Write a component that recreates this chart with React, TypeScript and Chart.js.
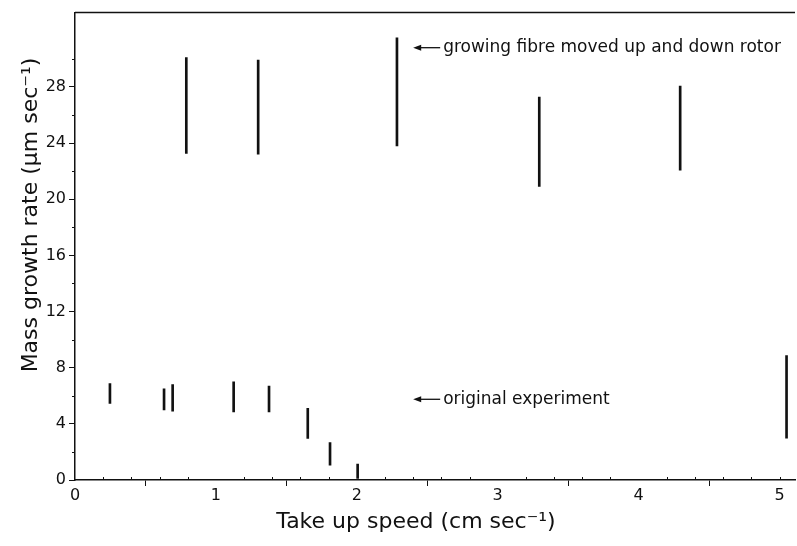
import React, { useEffect, useRef } from "react";
import { Chart, registerables } from "chart.js";

Chart.register(...registerables);

// Upper group: growing fibre moved up and down rotor
const upperX = [0.79, 1.3, 2.285, 3.295, 4.295];
const upperLow = [23.26, 23.22, 23.8, 20.92, 22.08];
const upperHigh = [30.09, 29.92, 31.5, 27.29, 28.07];

// Lower group: original experiment
const lowerX = [0.248, 0.632, 0.693, 1.126, 1.377, 1.652, 1.81, 2.006, 5.05];
const lowerLow = [5.45, 5.0, 4.9, 4.85, 4.85, 2.96, 1.06, 0.12, 2.98];
const lowerHigh = [6.87, 6.5, 6.8, 7.0, 6.7, 5.1, 2.67, 1.13, 8.87];

const xTickValues = [0, 1, 2, 3, 4, 5];
const xTickLabels = ["0", "1", "2", "3", "4", "5"];
const yTickValues = [0, 4, 8, 12, 16, 20, 24, 28];
const yTickLabels = ["0", "4", "8", "12", "16", "20", "24", "28"];
const xMinorTicks = [0.2, 0.4, 0.6, 0.8, 1.2, 1.4, 1.6, 1.8, 2.2, 2.4, 2.6, 2.8, 3.2, 3.4, 3.6, 3.8, 4.2, 4.4, 4.6, 4.8, 5.0];
const yMinorTicks = [2, 6, 10, 14, 18, 22, 26, 30];

const annotationTexts = ["growing fibre moved up and down rotor", "original experiment"];
const annotationX = [2.4, 2.4];
const annotationY = [30.8, 5.75];

const xTitle = "Take up speed (cm sec\u207B\u00B9)";
const yTitle = "Mass growth rate (\u03BCm sec\u207B\u00B9)";

const FONT = "'DejaVu Sans', sans-serif";
const INK = "#111";

const extrasPlugin = {
  id: "extras",
  afterDraw(chart: any) {
    const ctx = chart.ctx as CanvasRenderingContext2D;
    const area = chart.chartArea;
    const xs = chart.scales.x;
    const ys = chart.scales.y;
    ctx.save();
    ctx.strokeStyle = INK;
    ctx.fillStyle = INK;
    // top frame line
    ctx.lineWidth = 1.5;
    ctx.beginPath();
    ctx.moveTo(area.left, area.top);
    ctx.lineTo(area.right, area.top);
    ctx.stroke();
    // minor ticks
    ctx.lineWidth = 1;
    ctx.beginPath();
    for (const v of xMinorTicks) {
      const px = Math.round(xs.getPixelForValue(v)) + 0.5;
      ctx.moveTo(px, area.bottom);
      ctx.lineTo(px, area.bottom - 3);
    }
    for (const v of yMinorTicks) {
      const py = Math.round(ys.getPixelForValue(v)) + 0.5;
      ctx.moveTo(area.left, py);
      ctx.lineTo(area.left - 3, py);
    }
    ctx.stroke();
    // annotations with arrows
    ctx.font = `17px ${FONT}`;
    ctx.textBaseline = "middle";
    ctx.textAlign = "left";
    annotationTexts.forEach((t, i) => {
      const x0 = xs.getPixelForValue(annotationX[i]);
      const y0 = ys.getPixelForValue(annotationY[i]);
      ctx.lineWidth = 1.3;
      ctx.beginPath();
      ctx.moveTo(x0 + 4, y0);
      ctx.lineTo(x0 + 27, y0);
      ctx.stroke();
      ctx.beginPath();
      ctx.moveTo(x0, y0);
      ctx.lineTo(x0 + 8, y0 - 3);
      ctx.lineTo(x0 + 8, y0 + 3);
      ctx.closePath();
      ctx.fill();
      ctx.fillText(t, x0 + 30, y0);
    });
    // axis titles
    ctx.font = `22px ${FONT}`;
    ctx.textAlign = "center";
    ctx.textBaseline = "middle";
    ctx.fillText(xTitle, 416, 522);
    ctx.save();
    ctx.translate(31, 215);
    ctx.rotate(-Math.PI / 2);
    ctx.fillText(yTitle, 0, 0);
    ctx.restore();
    ctx.restore();
  },
};

export default function App() {
  const ref = useRef<HTMLCanvasElement | null>(null);
  useEffect(() => {
    if (!ref.current) return;
    const chart = new Chart(ref.current, {
      type: "bar",
      data: {
        datasets: [
          {
            label: "growing fibre moved up and down rotor",
            data: upperX.map((x, i) => ({ x, y: [upperLow[i], upperHigh[i]] })) as any,
            backgroundColor: INK,
            borderWidth: 0,
            barThickness: 2,
          },
          {
            label: "original experiment",
            data: lowerX.map((x, i) => ({ x, y: [lowerLow[i], lowerHigh[i]] })) as any,
            backgroundColor: INK,
            borderWidth: 0,
            barThickness: 2,
          },
        ],
      },
      options: {
        responsive: false,
        animation: false,
        devicePixelRatio: 1,
        layout: { padding: { top: 12, right: 2, left: 0, bottom: 0 } },
        datasets: { bar: { grouped: false } } as any,
        plugins: { legend: { display: false }, tooltip: { enabled: false } },
        scales: {
          x: {
            type: "linear",
            offset: false,
            min: 0,
            max: 5.11,
            afterBuildTicks: (s: any) => {
              s.ticks = xTickValues.map((v) => ({ value: v }));
            },
            afterFit: (s: any) => {
              s.height = 66;
            },
            ticks: {
              callback: (v: any) => {
                const i = xTickValues.indexOf(Number(v));
                return i >= 0 ? xTickLabels[i] : "";
              },
              color: INK,
              font: { family: FONT, size: 16 },
              padding: 0,
              maxRotation: 0,
              autoSkip: false,
            },
            grid: { display: true, drawOnChartArea: false, drawTicks: true, tickLength: 6, tickColor: INK, tickWidth: 1 },
            border: { display: true, color: INK, width: 1.5 },
          },
          y: {
            type: "linear",
            min: 0,
            max: 33.3,
            afterBuildTicks: (s: any) => {
              s.ticks = yTickValues.map((v) => ({ value: v }));
            },
            afterFit: (s: any) => {
              s.width = 75;
            },
            ticks: {
              callback: (v: any) => {
                const i = yTickValues.indexOf(Number(v));
                return i >= 0 ? yTickLabels[i] : "";
              },
              color: INK,
              font: { family: FONT, size: 16 },
              padding: 3,
              autoSkip: false,
            },
            grid: { display: true, drawOnChartArea: false, drawTicks: true, tickLength: 6, tickColor: INK, tickWidth: 1 },
            border: { display: true, color: INK, width: 1.5 },
          },
        },
      },
      plugins: [extrasPlugin],
    });
    return () => chart.destroy();
  }, []);
  return (
    <div style={{ position: "fixed", left: 0, top: 0, width: 797, height: 546, background: "#fff" }}>
      <canvas ref={ref} width={797} height={546} style={{ width: 797, height: 546 }} />
    </div>
  );
}
